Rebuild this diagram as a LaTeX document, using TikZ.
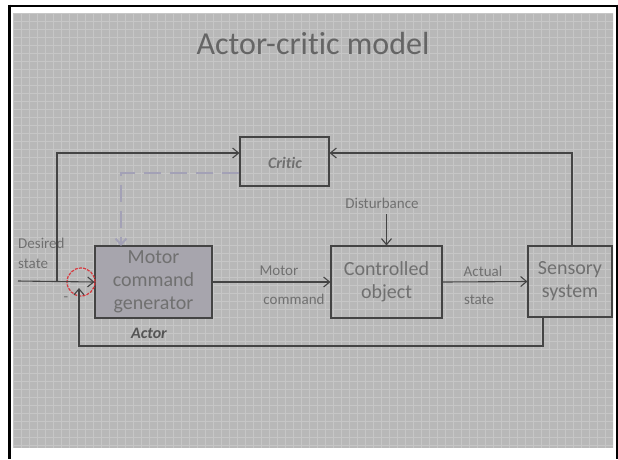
\documentclass[tikz,border=0pt]{standalone}
\usepackage{fontspec}
\setmainfont{Carlito}[Ligatures=NoCommon]
\usetikzlibrary{arrows.meta}
\definecolor{slidegray}{HTML}{B8B8B8}
\definecolor{gridgray}{HTML}{C6C6C6}
\definecolor{inkgray}{HTML}{444444}
\definecolor{txtgray}{HTML}{707070}
\definecolor{actorfill}{HTML}{A7A5AD}
\definecolor{dashgray}{HTML}{A3A1B6}
\definecolor{sumred}{HTML}{D8383E}
\tikzset{
  blocksolid/.style={draw=inkgray, line width=1.1pt, text=txtgray, font=\fontsize{20}{23}\selectfont, align=center, inner sep=0pt},
  lbl/.style={text=txtgray, font=\fontsize{15}{17}\selectfont, inner sep=0pt},
  tag/.style={font=\fontsize{16}{18}\selectfont\bfseries\itshape, inner sep=0pt},
  wire/.style={draw=inkgray, line width=1.1pt},
  tip/.style={-{Straight Barb[length=6pt,width=10pt,line width=1.1pt]}},
  hint/.style={draw=dashgray, line width=2.4pt, dash pattern=on 17pt off 9pt}
}
\begin{document}
\begin{tikzpicture}[x=1pt,y=-1pt]
% page and frame
\fill[white] (0,0) rectangle (618,459);
\useasboundingbox (0,0) rectangle (618,459);
\fill[slidegray] (13,13) rectangle (613,448);
\begin{scope}
  \clip (13,13) rectangle (613,448);
  \foreach \g in {13,21,...,620} {\draw[gridgray, line width=0.6pt] (\g,13) -- (\g,448);}
  \foreach \g in {13,21,...,450} {\draw[gridgray, line width=0.6pt] (13,\g) -- (613,\g);}
\end{scope}
\draw[black, line width=2pt] (8,5.5) -- (618,5.5);
\draw[black, line width=3pt] (9.5,4.5) -- (9.5,459);
\draw[black, line width=2pt] (616.5,4.5) -- (616.5,459);

% title
\node[text=txtgray!90!black, font=\fontsize{32}{36}\selectfont] (title) at (313,44) {Actor-critic model};

% blocks
\node[blocksolid, minimum width=89pt, minimum height=49pt] (critic) at (284.5,161.5) {};
\node[tag, text=txtgray] (crtxt) at (285,163) {Critic};
\node[blocksolid, fill=actorfill, minimum width=117pt, minimum height=72pt] (motor) at (153.5,282) {Motor\\command\\generator};
\node[blocksolid, minimum width=111pt, minimum height=72pt] (ctrl) at (386.5,282) {Controlled\\object};
\node[blocksolid, minimum width=84pt, minimum height=71pt] (sens) at (570,281.5) {Sensory\\system};
\node[tag, text=txtgray!75!black] (actor) at (149,333) {Actor};

% summing junction
\node[circle, draw=sumred, dash pattern=on 3pt off 1.2pt, line width=1.2pt, minimum size=28pt, inner sep=0pt] (sum) at (81,282) {};
\node[lbl] (minus) at (66,299) {-};

% labels
\node[lbl, anchor=west] (des1) at (18,243) {Desired};
\node[lbl, anchor=west] (des2) at (18,264) {state};
\node[lbl] (mc1) at (279,271) {Motor};
\node[lbl] (mc2) at (294,299) {command};
\node[lbl] (as1) at (483,271) {Actual};
\node[lbl] (as2) at (479,300) {state};
\node[lbl] (dist) at (382,203) {Disturbance};

% helper points
\coordinate (in) at (18,281);
\coordinate (branch) at (57,281);
\coordinate (crw) at (critic.west |- 0,153);
\coordinate (cre) at (critic.east |- 0,153);
\coordinate (crd) at (critic.west |- 0,173);
\coordinate (mtop) at (121,246);
\coordinate (sbot) at (543,317);
\coordinate (stop) at (572,246);
\coordinate (sumin) at (79,288);

% signal paths
\draw[wire, tip] (in) -- (motor.west);
\draw[wire, tip] (branch) |- (crw);
\draw[wire, tip] (motor.east) -- (ctrl.west);
\draw[wire, tip] (ctrl.east) -- (sens.west);
\draw[wire, tip] (dist.south -| ctrl.north) ++(0,6) -- (ctrl.north);
\draw[wire, tip] (stop) |- (cre);
\draw[wire, tip] (sbot) -- ++(0,29) -| (sumin);
\draw[hint, -{Straight Barb[length=6pt,width=11pt,line width=2pt]}] (crd) -| (mtop);
\end{tikzpicture}
\end{document}
